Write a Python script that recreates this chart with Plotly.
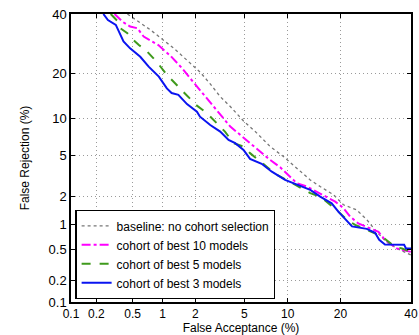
import plotly.graph_objects as go
from statistics import NormalDist

# ---- data (percent) ----
tick_pct = [0.1, 0.2, 0.5, 1, 2, 5, 10, 20, 40]
tick_text = ["0.1", "0.2", "0.5", "1", "2", "5", "10", "20", "40"]

base_fa = [0.44, 0.76, 1.27, 2.20, 2.69, 3.25, 3.91, 4.94, 6.19, 7.66, 9.38, 11.4,
           13.7, 15.6, 18.4, 20.7, 24.0, 26.7, 29.5, 32.4, 35.5, 40]
base_fr = [40, 34.1, 27.8, 20.5, 17.3, 14.3, 12.2, 9.56, 7.68, 5.95, 4.87, 3.82,
           2.95, 2.54, 2.10, 1.65, 1.45, 1.13, 0.82, 0.62, 0.52, 0.43]

b10_fa = [0.32, 0.39, 0.47, 0.56, 0.65, 0.91, 1.19, 1.52, 1.80, 2.20, 2.85, 3.36,
          3.91, 4.66, 5.52, 6.52, 7.66, 8.94, 10.1, 11.4, 13.1, 16.2, 18.8, 20.7,
          22.3, 24.4, 27.6, 30.0, 31.9, 35.5, 40]
b10_fr = [40, 37.1, 35.3, 34.7, 31.7, 28.8, 25.3, 21.6, 18.8, 15.8, 12.2, 10.4,
          8.66, 7.44, 6.35, 5.38, 4.54, 3.89, 3.31, 2.74, 2.54, 2.10, 1.78, 1.52,
          1.23, 1.03, 0.91, 0.82, 0.66, 0.52, 0.47]

b5_fa = [0.29, 0.35, 0.37, 0.44, 0.51, 0.58, 0.68, 0.79, 0.88, 1.10, 1.50, 1.69,
         2.04, 2.53, 2.95, 3.55, 4.15, 4.94, 5.52, 6.52, 7.46, 8.49, 9.85, 13.7,
         15.6, 19.5, 21.5, 23.6, 27.6, 30.9, 35.0, 37.1, 40]
b5_fr = [40, 37.1, 34.7, 32.9, 30.5, 28.8, 27.2, 25.0, 23.4, 19.7, 15.8, 14.6,
         12.5, 10.9, 9.45, 7.9, 6.35, 5.95, 5.22, 4.38, 3.82, 3.31, 2.95, 2.18,
         2.01, 1.39, 1.13, 0.99, 0.84, 0.73, 0.54, 0.52, 0.47]

b3_fa = [0.24, 0.27, 0.33, 0.37, 0.40, 0.47, 0.60, 0.73, 0.92, 1.10, 1.22, 1.41,
         1.69, 2.07, 2.20, 2.69, 3.25, 3.79, 4.27, 4.94, 5.52, 6.69, 7.86, 9.61,
         11.4, 13.7, 15.6, 18.0, 19.5, 20.7, 22.8, 26.7, 29.0, 30.2, 31.9, 37.8,
         38.4, 40]
b3_fr = [40, 37.7, 35.9, 32.3, 30.0, 27.7, 25.0, 22.0, 19.2, 16.2, 15.1, 14.7,
         12.7, 11.2, 10.3, 8.9, 7.9, 6.75, 6.35, 5.56, 4.64, 4.19, 3.54, 2.95,
         2.65, 2.35, 2.01, 1.71, 1.39, 1.20, 0.95, 0.89, 0.80, 0.66, 0.58, 0.576,
         0.52, 0.52]

nd = NormalDist()


def probit(vals):
    return [nd.inv_cdf(v / 100.0) for v in vals]


FONT = "Liberation Sans, Arial, sans-serif"

fig = go.Figure()
fig.add_trace(go.Scatter(x=probit(base_fa), y=probit(base_fr), mode="lines",
                         name="baseline: no cohort selection",
                         line=dict(color="#777777", width=1.3, dash="dot")))
fig.add_trace(go.Scatter(x=probit(b10_fa), y=probit(b10_fr), mode="lines",
                         name="cohort of best 10 models",
                         line=dict(color="#ff00ff", width=2, dash="dashdot")))
fig.add_trace(go.Scatter(x=probit(b5_fa), y=probit(b5_fr), mode="lines",
                         name="cohort of best 5 models",
                         line=dict(color="#3f9a1c", width=2, dash="dash")))
fig.add_trace(go.Scatter(x=probit(b3_fa), y=probit(b3_fr), mode="lines",
                         name="cohort of best 3 models",
                         line=dict(color="#0a14f0", width=2)))

tv = probit(tick_pct)
axis_common = dict(
    tickvals=tv, ticktext=tick_text, range=[tv[0], tv[-1]],
    showgrid=True, gridcolor="#9a9a9a", griddash="1px,3px", gridwidth=1,
    zeroline=False, showline=True, linecolor="black", linewidth=1.5,
    mirror="ticks", ticks="inside", ticklen=4, tickcolor="black",
    automargin=False,
)

fig.update_layout(
    width=419, height=335,
    margin=dict(l=71, r=8, t=14, b=33),
    paper_bgcolor="white", plot_bgcolor="white",
    font=dict(family=FONT, size=13, color="black"),
    xaxis=dict(**axis_common,
               tickfont=dict(family=FONT, size=12, color="black"),
               title=dict(text="False Acceptance (%)", standoff=0,
                          font=dict(family=FONT, size=12))),
    yaxis=dict(**axis_common,
               tickfont=dict(family=FONT, size=13, color="black"),
               title=dict(text="False Rejection (%)", standoff=16,
                          font=dict(family=FONT, size=12))),
    legend=dict(x=0.013, y=0.01, xanchor="left", yanchor="bottom",
                bgcolor="white", bordercolor="black", borderwidth=1.2,
                font=dict(family=FONT, size=12), tracegroupgap=0,
                itemwidth=30),
    showlegend=True,
)

fig.write_html("out.html",
               config={"displayModeBar": False},
               post_script="document.body.style.margin='0';")
